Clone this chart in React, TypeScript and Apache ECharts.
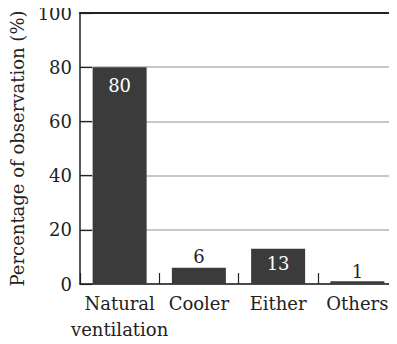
import React, { useEffect, useRef } from "react";
import * as echarts from "echarts";

const categories = ["Natural\nventilation", "Cooler", "Either", "Others"];
const values = [80, 6, 13, 1];
const insideLabel = [true, false, true, false];
const labelDistance = [9, 2, 6, 1];
const yTicks = [0, 20, 40, 60, 80, 100];

const FONT = "DejaVu Serif";
const BAR = "#3b3b3b";
const INK = "#222222";

export default function App() {
  const ref = useRef<HTMLDivElement>(null);
  useEffect(() => {
    if (!ref.current) return;
    const chart = echarts.init(ref.current, null, { renderer: "svg" });
    chart.setOption({
      animation: false,
      backgroundColor: "#ffffff",
      textStyle: { fontFamily: FONT },
      grid: { left: 79, right: 0, top: 13, bottom: 60, containLabel: false },
      xAxis: [
        {
          type: "category",
          data: categories,
          axisLine: { show: true, lineStyle: { color: INK, width: 1.5 } },
          axisTick: { show: true, inside: true, length: 11, lineStyle: { color: INK, width: 1.2 } },
          axisLabel: {
            color: "#222",
            fontFamily: FONT,
            fontSize: 18,
            lineHeight: 26,
            margin: 6,
            interval: 0,
          },
        },
        {
          type: "category",
          position: "top",
          data: categories,
          axisLine: { show: true, lineStyle: { color: INK, width: 2 } },
          axisTick: { show: false },
          axisLabel: { show: false },
        },
      ],
      yAxis: {
        type: "value",
        min: yTicks[0],
        max: yTicks[yTicks.length - 1],
        interval: 20,
        name: "Percentage of observation (%)",
        nameLocation: "middle",
        nameGap: 54,
        nameTextStyle: { color: "#222", fontFamily: FONT, fontSize: 18 },
        axisLine: { show: true, lineStyle: { color: INK, width: 1.5 } },
        axisTick: { show: true, inside: true, length: 12, lineStyle: { color: INK, width: 1.2 } },
        axisLabel: { color: "#222", fontFamily: FONT, fontSize: 18, margin: 8 },
        splitLine: { show: true, lineStyle: { color: "#b4b4b4", width: 1.5 } },
      },
      series: [
        {
          type: "bar",
          xAxisIndex: 0,
          barWidth: 54,
          data: values.map((v, i) => ({
            value: v,
            label: insideLabel[i]
              ? { position: "insideTop", distance: labelDistance[i], color: "#ffffff" }
              : { position: "top", distance: labelDistance[i], color: "#222" },
          })),
          itemStyle: { color: BAR },
          label: { show: true, fontFamily: FONT, fontSize: 18 },
        },
      ],
    });
    return () => chart.dispose();
  }, []);
  return <div ref={ref} style={{ width: 397, height: 344, margin: -8 }} />;
}
